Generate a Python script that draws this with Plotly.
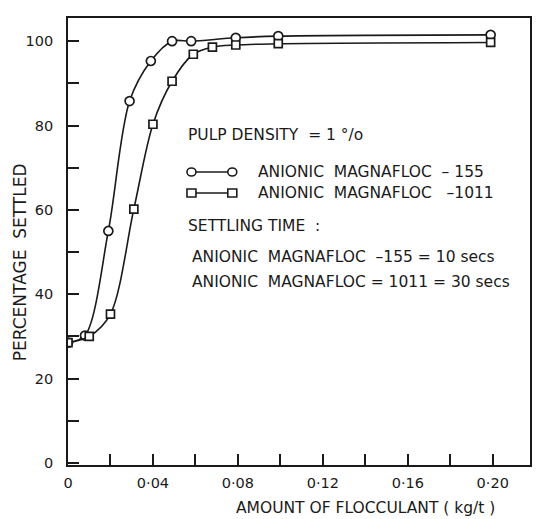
import plotly.graph_objects as go

# Data
x_155 = [0.0, 0.008, 0.019, 0.029, 0.039, 0.049, 0.058, 0.079, 0.099, 0.199]
y_155 = [28.5, 30.2, 55.0, 85.8, 95.3, 100.0, 100.0, 100.8, 101.2, 101.5]

x_1011 = [0.0, 0.010, 0.020, 0.031, 0.040, 0.049, 0.059, 0.068, 0.079, 0.099, 0.199]
y_1011 = [28.5, 30.0, 35.3, 60.2, 80.3, 90.5, 96.9, 98.6, 99.1, 99.4, 99.7]

x_tickvals = [0, 0.02, 0.04, 0.06, 0.08, 0.10, 0.12, 0.14, 0.16, 0.18, 0.20]
x_ticktext = ["0", "", "0·04", "", "0·08", "", "0·12", "", "0·16", "", "0·20"]
y_tickvals = [0, 10, 20, 30, 40, 50, 60, 70, 80, 90, 100]
y_ticktext = ["0", "", "20", "", "40", "", "60", "", "80", "", "100"]

FONT = "DejaVu Sans"
INK = "#1a1a1a"

fig = go.Figure()

fig.add_trace(go.Scatter(
    x=x_155, y=y_155, mode="lines+markers",
    line=dict(color=INK, width=1.6, shape="spline", smoothing=0.9),
    marker=dict(symbol="circle", size=9, color="white",
                line=dict(color=INK, width=1.7)),
    showlegend=False, name="ANIONIC MAGNAFLOC -155"))

fig.add_trace(go.Scatter(
    x=x_1011, y=y_1011, mode="lines+markers",
    line=dict(color=INK, width=1.6, shape="spline", smoothing=0.9),
    marker=dict(symbol="square", size=8, color="white",
                line=dict(color=INK, width=1.7)),
    showlegend=False, name="ANIONIC MAGNAFLOC -1011"))

# plot area geometry (px) for paper-coordinate placement of text
L, R, T, B = 68, 532, 18, 465
W, H = 538, 519
def px(x):
    return (x - L) / (R - L)
def py(y):
    return (B - y) / (B - T)

ann = []
def txt(s, x, y, size=15.5, anchor="left"):
    ann.append(dict(text=s, x=px(x), y=py(y), xref="paper", yref="paper",
                    xanchor=anchor, yanchor="middle", showarrow=False,
                    font=dict(family=FONT, size=size, color=INK)))

txt("PULP DENSITY  = 1 °/o", 187, 135)
txt("ANIONIC  MAGNAFLOC  – 155", 257, 172)
txt("ANIONIC  MAGNAFLOC   –1011", 257, 193)
txt("SETTLING TIME  :", 187, 226)
txt("ANIONIC  MAGNAFLOC  –155 = 10 secs", 191, 257)
txt("ANIONIC  MAGNAFLOC = 1011 = 30 secs", 191, 282)

# legend samples
shapes = []
for yy, kind in [(172, "circle"), (193, "rect")]:
    shapes.append(dict(type="line", xref="paper", yref="paper",
                       x0=px(192), x1=px(233), y0=py(yy), y1=py(yy),
                       line=dict(color=INK, width=1.5)))
    for xx in (192, 233):
        shapes.append(dict(type=kind, xref="paper", yref="paper",
                           xsizemode="pixel", ysizemode="pixel",
                           xanchor=px(xx), yanchor=py(yy),
                           x0=-4.5, x1=4.5, y0=-4, y1=4,
                           fillcolor="white", line=dict(color=INK, width=1.6)))

# axis titles as annotations
ann.append(dict(text="AMOUNT OF FLOCCULANT ( kg/t )", x=px(367), y=py(508),
                xref="paper", yref="paper", xanchor="center", yanchor="middle",
                showarrow=False, font=dict(family=FONT, size=15.5, color=INK)))
ann.append(dict(text="PERCENTAGE  SETTLED", x=px(20), y=py(262),
                xref="paper", yref="paper", xanchor="center", yanchor="middle",
                textangle=-90, showarrow=False,
                font=dict(family=FONT, size=17, color=INK)))

fig.update_layout(
    width=W, height=H,
    margin=dict(l=L, r=W - R, t=T, b=H - B),
    paper_bgcolor="white", plot_bgcolor="white",
    annotations=ann, shapes=shapes,
    font=dict(family=FONT, size=14, color=INK),
)

fig.update_xaxes(
    range=[0, (R - L) / 2133.0], tickvals=x_tickvals, ticktext=x_ticktext,
    ticks="inside", ticklen=11, tickwidth=1.5, tickcolor=INK,
    showline=True, linecolor=INK, linewidth=1.6, mirror=True,
    showgrid=False, zeroline=False, ticklabelstandoff=4,
    tickfont=dict(family=FONT, size=14.5, color=INK),
)
fig.update_yaxes(
    range=[-0.5, 105.5], tickvals=y_tickvals, ticktext=y_ticktext,
    ticks="inside", ticklen=11, tickwidth=1.5, tickcolor=INK,
    showline=True, linecolor=INK, linewidth=1.6, mirror=True,
    showgrid=False, zeroline=False, ticklabelstandoff=10,
    tickfont=dict(family=FONT, size=14.5, color=INK),
)

fig.write_html("out.html")
